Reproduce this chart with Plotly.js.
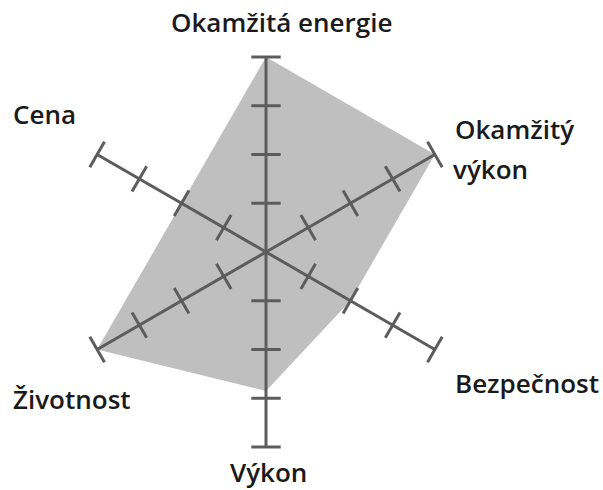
<!DOCTYPE html>
<html>
<head>
<meta charset="utf-8">
<script src="https://cdn.plot.ly/plotly-3.0.1.min.js"></script>
<style>
  html, body { margin: 0; padding: 0; background: #ffffff; }
  #chart { width: 603px; height: 490px; }
</style>
</head>
<body>
<div id="chart"></div>
<script>
// Six evaluation criteria, clockwise from the top
const categories = ['Okamžitá energie', 'Okamžitý výkon', 'Bezpečnost', 'Výkon', 'Životnost', 'Cena'];
// Score of each criterion on a 0–4 scale
const scores = [4, 4, 2, 2.85, 4, 2];
// Tick marks drawn on every spoke
const tickLevels = [1, 2, 3, 4];
const scaleMax = 4;

const W = 603, H = 490;
const cx = 266, cy = 252, R = 195;

const spokeColor = '#5c5c5c';
const fillColor = '#bfbfbf';
const labelFont = { family: 'Open Sans, Lato, sans-serif', size: 26, weight: 600, color: '#1a1a1a' };

const traces = [];

// Filled score polygon
traces.push({
  type: 'scatterpolar',
  r: scores.concat([scores[0]]),
  theta: categories.concat([categories[0]]),
  mode: 'lines',
  fill: 'toself',
  fillcolor: fillColor,
  line: { width: 0, color: fillColor },
  hoverinfo: 'skip',
  cliponaxis: false
});

// Spokes with cross ticks
categories.forEach((cat, i) => {
  traces.push({
    type: 'scatterpolar',
    r: [0, scaleMax],
    theta: [cat, cat],
    mode: 'lines',
    line: { width: 3, color: spokeColor },
    hoverinfo: 'skip',
    cliponaxis: false
  });
  traces.push({
    type: 'scatterpolar',
    r: tickLevels,
    theta: tickLevels.map(() => cat),
    mode: 'markers',
    marker: {
      symbol: 'line-ew',
      size: 21,
      angle: i * 60,
      color: spokeColor,
      line: { width: 3, color: spokeColor }
    },
    hoverinfo: 'skip',
    cliponaxis: false
  });
});

// Criterion labels (px positions converted to paper fractions)
const px = (x) => x / W;
const py = (y) => 1 - y / H;
const labelSpots = [
  [{ x: 281, y: 22, xa: 'center' }],
  [{ x: 453, y: 129, xa: 'left' }, { x: 451, y: 169, xa: 'left' }],
  [{ x: 453, y: 383, xa: 'left' }],
  [{ x: 268, y: 472, xa: 'center' }],
  [{ x: 11, y: 399, xa: 'left' }],
  [{ x: 11, y: 114, xa: 'left' }]
];
const annotations = [];
categories.forEach((cat, i) => {
  const parts = labelSpots[i].length > 1 ? cat.split(' ') : [cat];
  labelSpots[i].forEach((s, k) => {
    annotations.push({
      text: parts[k],
      xref: 'paper', yref: 'paper',
      x: px(s.x), y: py(s.y),
      xanchor: s.xa, yanchor: 'middle',
      showarrow: false,
      font: labelFont
    });
  });
});

const layout = {
  width: W,
  height: H,
  margin: { l: 0, r: 0, t: 0, b: 0 },
  paper_bgcolor: '#ffffff',
  showlegend: false,
  polar: {
    domain: { x: [px(cx - R), px(cx + R)], y: [1 - (cy + R) / H, 1 - (cy - R) / H] },
    bgcolor: 'rgba(0,0,0,0)',
    radialaxis: { visible: false, range: [0, scaleMax] },
    angularaxis: {
      type: 'category',
      categoryarray: categories,
      rotation: 90,
      direction: 'clockwise',
      showline: false,
      showgrid: false,
      showticklabels: false,
      ticks: ''
    }
  },
  annotations: annotations
};

Plotly.newPlot('chart', traces, layout, { displayModeBar: false, staticPlot: true });
</script>
</body>
</html>
